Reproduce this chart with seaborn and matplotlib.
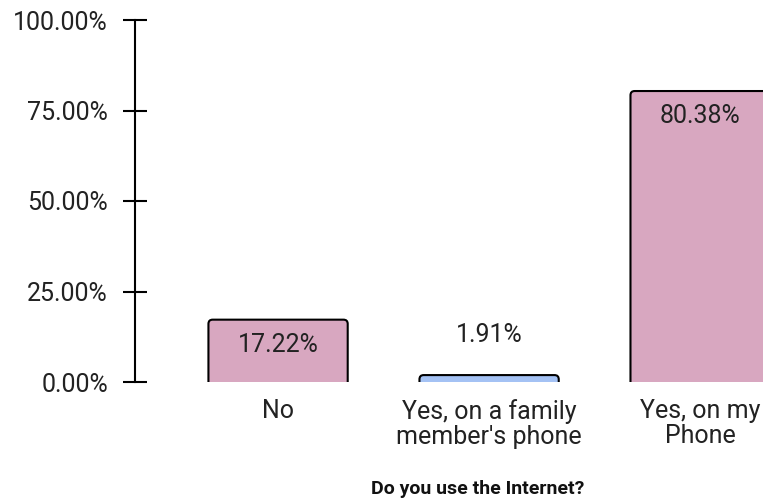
import matplotlib
matplotlib.use('Agg')
import matplotlib.pyplot as plt
from matplotlib.patches import FancyBboxPatch
import seaborn as sns
import pandas as pd

# data
categories = ['No', "Yes, on a family\nmember's phone", 'Yes, on my\nPhone']
percentages = [17.22, 1.91, 80.38]
bar_colors = ['#D8A7C0', '#A4C2F4', '#D8A7C0']
y_ticks = [0, 25, 50, 75, 100]

df = pd.DataFrame({'answer': categories, 'pct': percentages})

sns.set_style('white')
plt.rcParams['font.family'] = ['Roboto', 'DejaVu Sans']

fig = plt.figure(figsize=(7.63, 5.04), dpi=100)
ax = fig.add_axes([135 / 763, 122 / 504, 628 / 763, 362 / 504])

sns.barplot(data=df, x='answer', y='pct', hue='answer', palette=bar_colors,
            saturation=1, legend=False, width=0.66, ax=ax,
            edgecolor='black', linewidth=1.5)

# x range so the last bar runs off the right edge like the reference
ax.set_xlim(-0.678, 2.298)
ax.set_ylim(0, 100)

# swap plain bars for bars with rounded top corners
aspect = (100 / 362) / (2.976 / 628)
for p in list(ax.patches):
    x0, w, h = p.get_x(), p.get_width(), p.get_height()
    fc = p.get_facecolor()
    p.remove()
    ax.add_patch(FancyBboxPatch((x0, -3), w, h + 3,
                                boxstyle='round,pad=0,rounding_size=0.02',
                                mutation_aspect=aspect, facecolor=fc,
                                edgecolor='black', linewidth=1.5, clip_on=True))

# value labels: inside bar when tall enough, above it otherwise
for i, v in enumerate(percentages):
    off = -18 if v > 10 else 29
    ax.annotate(f'{v:.2f}%', (i, v), xytext=(0, off), textcoords='offset points',
                ha='center', va='center', fontsize=18, color='#222222')

ax.set_yticks(y_ticks)
ax.set_yticklabels([f'{t:.2f}%' for t in y_ticks], fontsize=18, color='#222222')
ax.tick_params(axis='y', left=True, direction='inout', length=17, width=1.5,
               color='black', pad=11)
ax.tick_params(axis='x', bottom=False, length=0, labelsize=18, labelcolor='#222222', pad=12)
for lbl in ax.get_xticklabels():
    lbl.set_linespacing(1.05)

sns.despine(ax=ax, top=True, right=True, bottom=True)
ax.spines['left'].set_linewidth(1.5)
ax.spines['left'].set_color('black')

ax.set_ylabel('')
ax.set_xlabel('Do you use the Internet?', fontsize=14, fontweight='bold', color='#111111')
ax.xaxis.set_label_coords(0.546, -0.272)

fig.savefig('out.png', dpi=100)
